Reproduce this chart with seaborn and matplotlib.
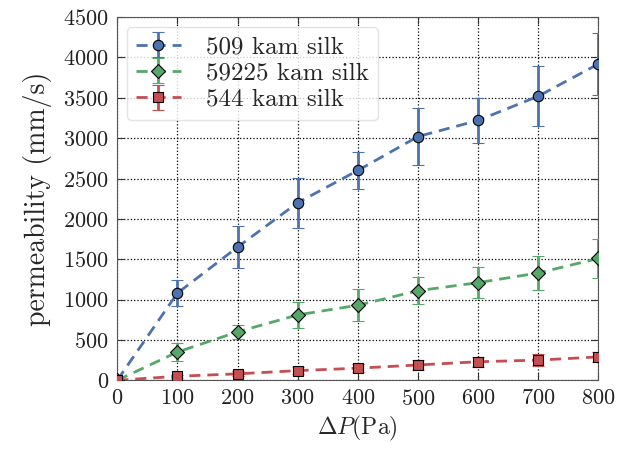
import matplotlib
matplotlib.use("Agg")
import matplotlib.pyplot as plt
import seaborn as sns
import numpy as np

pressure = [0, 100, 200, 300, 400, 500, 600, 700, 800]
perm_509 = [0, 1080, 1650, 2200, 2600, 3020, 3220, 3520, 3920]
err_509 = [0, 160, 260, 310, 230, 350, 280, 370, 380]
perm_59225 = [0, 350, 600, 810, 930, 1110, 1210, 1330, 1510]
err_59225 = [0, 110, 90, 160, 200, 170, 190, 210, 240]
perm_544 = [0, 50, 80, 120, 150, 190, 230, 250, 290]
err_544 = [0, 20, 30, 40, 50, 60, 60, 70, 60]
labels = ["509 kam silk", "59225 kam silk", "544 kam silk"]
x_ticks = [0, 100, 200, 300, 400, 500, 600, 700, 800]
y_ticks = [0, 500, 1000, 1500, 2000, 2500, 3000, 3500, 4000, 4500]

sns.set_theme(style="whitegrid")
pal = sns.color_palette("deep")
plt.rcParams["font.family"] = ["cmr10", "DejaVu Serif"]
plt.rcParams["mathtext.fontset"] = "cm"
plt.rcParams["axes.formatter.use_mathtext"] = True

fig, ax = plt.subplots(figsize=(6.17, 4.49), dpi=100)
fig.subplots_adjust(left=0.19, right=0.970, bottom=0.153, top=0.962)

series = [(perm_509, err_509, "o", pal[0]),
          (perm_59225, err_59225, "D", pal[2]),
          (perm_544, err_544, "s", pal[3])]
for (y, e, m, c), lab in zip(series, labels):
    line, caps, bars = ax.errorbar(pressure, y, yerr=e, fmt=m, linestyle="--", color=c,
                markeredgecolor="black", markeredgewidth=0.8,
                markersize=7.5 if m != "D" else 7, linewidth=2.0,
                elinewidth=2.0, capsize=4, capthick=1.2, label=lab, zorder=3)
    line.set_dashes((4, 2.5))

ax.set_xlim(0, 800)
ax.set_ylim(0, 4500)
ax.set_xticks(x_ticks)
ax.set_yticks(y_ticks)
ax.grid(True, color="black", linestyle=":", linewidth=0.9)
ax.set_facecolor("white")
for sp in ax.spines.values():
    sp.set_color("#555555")
    sp.set_linewidth(0.8)
ax.tick_params(axis="both", which="both", direction="in", length=5,
               width=0.8, color="#333333", top=True, right=True,
               bottom=True, left=True, labelsize=16, pad=6)
ax.set_xlabel(r"$\Delta P$(Pa)", fontsize=17)
ax.set_ylabel("permeability (mm/s)", fontsize=20, labelpad=8)
for t in ax.get_xticklabels() + ax.get_yticklabels():
    t.set_color("#222222")

leg = ax.legend(loc="upper left", fontsize=18, frameon=True, handlelength=1.8,
                borderpad=0.35, labelspacing=0.15, handletextpad=1.0,
                borderaxespad=0.4)
leg.get_frame().set_edgecolor("#dddddd")
leg.get_frame().set_facecolor("white")

fig.savefig("out.png", dpi=100)
